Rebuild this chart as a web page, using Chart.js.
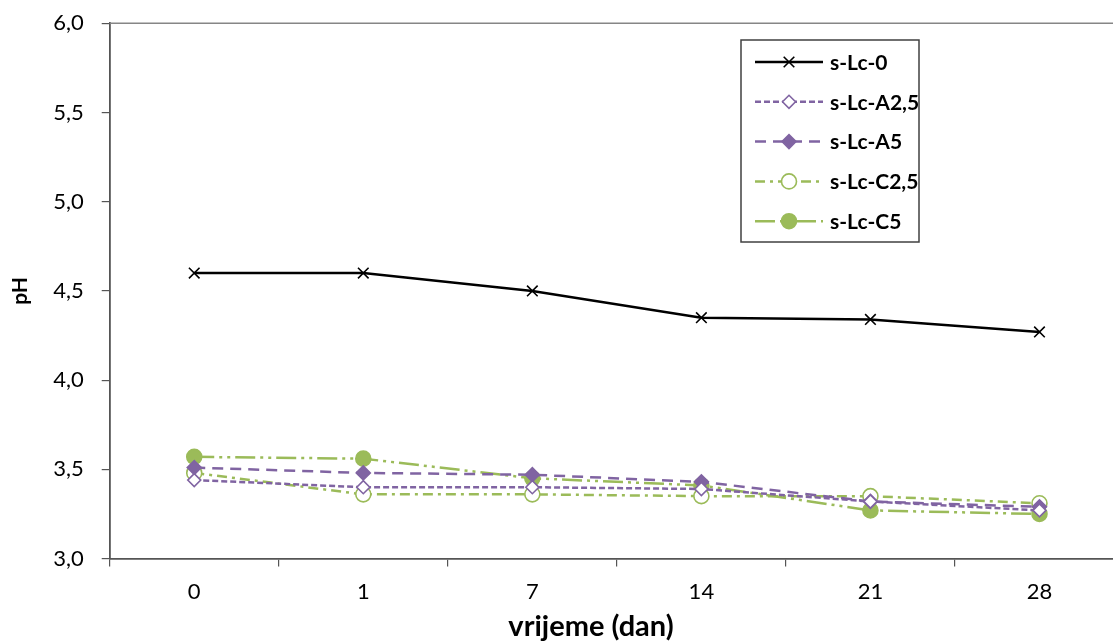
<!DOCTYPE html>
<html>
<head>
<meta charset="utf-8">
<script src="https://cdn.jsdelivr.net/npm/chart.js@4.4.0/dist/chart.umd.min.js"></script>
<style>
  html, body { margin: 0; padding: 0; background: #fff; overflow: hidden; }
  #wrap { width: 1113px; height: 642px; overflow: hidden; position: relative; }
  canvas { position: absolute; left: 0; top: -8px; }
</style>
</head>
<body>
<div id="wrap"><canvas id="phChart" width="1150" height="668"></canvas></div>
<script>
// days of storage
const days = ['0', '1', '7', '14', '21', '28'];
// pH per sample
const lc0 = [4.60, 4.60, 4.50, 4.35, 4.34, 4.27];
const lcA25 = [3.44, 3.40, 3.40, 3.39, 3.32, 3.27];
const lcA5 = [3.51, 3.48, 3.47, 3.43, 3.32, 3.29];
const lcC25 = [3.48, 3.36, 3.36, 3.35, 3.35, 3.31];
const lcC5 = [3.57, 3.56, 3.45, 3.41, 3.27, 3.25];
const seriesNames = ['s-Lc-0', 's-Lc-A2,5', 's-Lc-A5', 's-Lc-C2,5', 's-Lc-C5'];
const yTicks = [3.0, 3.5, 4.0, 4.5, 5.0, 5.5, 6.0];

const purple = '#8064A2';
const green = '#9BBB59';
const fontName = 'Lato, "Open Sans", sans-serif';

// box around plot (only top part is visible, right side is cut off)
const plotBorder = {
  id: 'plotBorder',
  beforeDatasetsDraw(chart) {
    const a = chart.chartArea;
    const ctx = chart.ctx;
    ctx.save();
    ctx.strokeStyle = '#868686';
    ctx.lineWidth = 1.5;
    ctx.beginPath();
    ctx.moveTo(a.left, a.top);
    ctx.lineTo(a.right, a.top);
    ctx.lineTo(a.right, a.bottom);
    ctx.stroke();
    ctx.restore();
  }
};

// excel-like legend with dashed samples and markers
const legendBox = {
  id: 'legendBox',
  afterDraw(chart) {
    const ctx = chart.ctx;
    const x = 741, y = 48, w = 178, h = 202;
    ctx.save();
    ctx.fillStyle = '#fff';
    ctx.fillRect(x, y, w, h);
    ctx.strokeStyle = '#404040';
    ctx.lineWidth = 1.5;
    ctx.strokeRect(x, y, w, h);
    chart.data.datasets.forEach((ds, i) => {
      const cy = y + 22 + i * 39.8;
      ctx.setLineDash(ds.borderDash || []);
      ctx.strokeStyle = ds.borderColor;
      ctx.lineWidth = ds.borderWidth;
      ctx.beginPath();
      ctx.moveTo(x + 14, cy);
      ctx.lineTo(x + 82, cy);
      ctx.stroke();
      ctx.setLineDash([]);
      ctx.fillStyle = ds.pointBackgroundColor;
      ctx.strokeStyle = ds.pointBorderColor;
      ctx.lineWidth = ds.pointBorderWidth;
      Chart.helpers.drawPoint(ctx, {
        pointStyle: ds.pointStyle, radius: ds.pointRadius,
        borderWidth: ds.pointBorderWidth, rotation: 0
      }, x + 48, cy);
      ctx.fillStyle = '#000';
      ctx.font = 'bold 21px ' + fontName;
      ctx.textBaseline = 'middle';
      ctx.textAlign = 'left';
      ctx.fillText(ds.label, x + 89, cy + 1);
    });
    ctx.restore();
  }
};

// x axis title, centred on the chart object as in the original
const xTitle = {
  id: 'xTitle',
  afterDraw(chart) {
    const ctx = chart.ctx;
    ctx.save();
    ctx.fillStyle = '#000';
    ctx.font = 'bold 29px ' + fontName;
    ctx.textAlign = 'center';
    ctx.textBaseline = 'alphabetic';
    ctx.fillText('vrijeme (dan)', 591, 644);
    ctx.restore();
  }
};

function makeSet(label, data, color, dash, style, radius, filled, width) {
  return {
    label: label,
    data: data,
    borderColor: color,
    borderWidth: width,
    borderDash: dash,
    pointStyle: style,
    pointRadius: radius,
    pointHoverRadius: radius,
    pointBorderColor: color,
    pointBackgroundColor: filled ? color : '#fff',
    pointBorderWidth: 1.6,
    tension: 0,
    fill: false
  };
}

const ctx = document.getElementById('phChart').getContext('2d');
new Chart(ctx, {
  type: 'line',
  data: {
    labels: days,
    datasets: [
      makeSet(seriesNames[0], lc0, '#000', [], 'crossRot', 7.5, false, 2.5),
      makeSet(seriesNames[1], lcA25, purple, [6, 3], 'rectRot', 6.5, false, 2.5),
      makeSet(seriesNames[2], lcA5, purple, [11, 7], 'rectRot', 7, true, 2.5),
      makeSet(seriesNames[3], lcC25, green, [10, 5, 3, 5], 'circle', 7.5, false, 2.5),
      makeSet(seriesNames[4], lcC5, green, [20, 5, 3, 5, 3, 5], 'circle', 7.5, true, 2.5)
    ]
  },
  options: {
    responsive: false,
    animation: false,
    devicePixelRatio: 1,
    layout: { padding: { left: 8, right: 26, top: 2, bottom: 43 } },
    plugins: {
      legend: { display: false },
      tooltip: { enabled: false }
    },
    scales: {
      x: {
        offset: true,
        grid: {
          offset: true,
          drawOnChartArea: false,
          drawTicks: true,
          tickLength: 8,
          color: '#555',
          lineWidth: 1.2
        },
        border: { color: '#555', width: 1.8 },
        ticks: {
          color: '#000',
          font: { family: fontName, size: 22 },
          padding: 12
        }
      },
      y: {
        min: 3,
        max: 6,
        afterBuildTicks(axis) {
          axis.ticks = yTicks.map(v => ({ value: v }));
        },
        grid: {
          drawOnChartArea: false,
          drawTicks: true,
          tickLength: 8,
          color: '#555',
          lineWidth: 1.2
        },
        border: { color: '#555', width: 1.8 },
        ticks: {
          color: '#000',
          font: { family: fontName, size: 22 },
          padding: 18,
          callback: v => v.toFixed(1).replace('.', ',')
        },
        title: {
          display: true,
          text: 'pH',
          color: '#000',
          font: { family: fontName, size: 21, weight: 'bold' },
          padding: { top: 0, bottom: 2 }
        }
      }
    }
  },
  plugins: [plotBorder, legendBox, xTitle]
});
</script>
</body>
</html>
